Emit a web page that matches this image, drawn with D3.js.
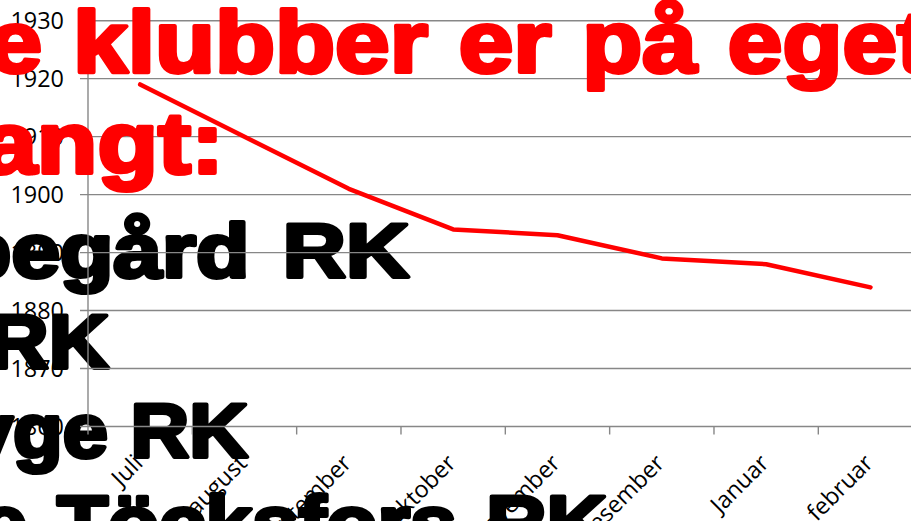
<!DOCTYPE html>
<html>
<head>
<meta charset="utf-8">
<script src="https://cdn.jsdelivr.net/npm/d3@7"></script>
<style>
  html, body { margin: 0; padding: 0; background: #fff; overflow: hidden; }
  svg { display: block; }
</style>
</head>
<body>
<svg id="chart" width="911" height="521"></svg>
<script>
// ---- data ----
const months = ["Juli", "august", "september", "oktober", "november", "desember", "Januar", "februar"];
const values = [1919, 1910, 1901, 1894, 1893, 1889, 1888, 1884];
const yTicks = [1860, 1870, 1880, 1890, 1900, 1910, 1920, 1930];
const redLines = ["e klubber er på eget", "angt:"];
const blackLines = ["begård RK", "RK", "yge RK", "e Töcksfors RK"];

// ---- drawing ----
const svg = d3.select("#chart");
const W = 911, H = 521;
const left = 88, bandW = 104.33;
const x = d3.scaleBand().domain(months).range([left, left + bandW * months.length]).padding(0);
const y = d3.scaleLinear().domain([1860, 1930]).range([426.5, 20.7]);

const bigFont = "'Liberation Sans', Arial, sans-serif";
const backText = svg.append("g").attr("class", "black-text");
const chart = svg.append("g").attr("class", "chart");
const frontText = svg.append("g").attr("class", "red-text");

function bigText(layer, str, color, size, base, sx, ws, mode, ax) {
  const t = layer.append("text")
    .text(str)
    .attr("font-family", bigFont)
    .attr("font-weight", "bold")
    .attr("font-size", size)
    .attr("word-spacing", ws)
    .attr("fill", color)
    .attr("stroke", color)
    .attr("stroke-width", 4)
    .attr("stroke-linejoin", "round");
  if (mode === "end") {
    t.attr("text-anchor", "end").attr("transform", `translate(${ax},${base}) scale(${sx},1)`);
  } else {
    const off = t.node().getSubStringLength(0, mode);
    t.attr("text-anchor", "start").attr("transform", `translate(${ax - off * sx},${base}) scale(${sx},1)`);
  }
}
// black list (behind the chart)
bigText(backText, blackLines[0], "#000", 76, 277, 1.15, 8, "end", 409);
bigText(backText, blackLines[1], "#000", 76, 368, 1.1, 0, "end", 109);
bigText(backText, blackLines[2], "#000", 76, 457, 1.07, 0, "end", 248);
bigText(backText, blackLines[3], "#000", 76, 549, 1.1, 6, "end", 607);

// gridlines
const gridColor = "#878787";
chart.append("g").selectAll("line").data(yTicks).join("line")
  .attr("x1", 80).attr("x2", W)
  .attr("y1", d => y(d)).attr("y2", d => y(d))
  .attr("stroke", gridColor).attr("stroke-width", 1.4);

// y axis line
chart.append("line")
  .attr("x1", left).attr("x2", left)
  .attr("y1", y(1930)).attr("y2", y(1860))
  .attr("stroke", gridColor).attr("stroke-width", 1.4);

// x tick marks at category boundaries
const bounds = months.map(m => x(m)).concat([x(months[months.length - 1]) + x.bandwidth()]);
chart.append("g").selectAll("line").data(bounds).join("line")
  .attr("x1", d => d).attr("x2", d => d)
  .attr("y1", y(1860)).attr("y2", y(1860) + 8)
  .attr("stroke", gridColor).attr("stroke-width", 1.4);

// y labels
const lblFont = "'Open Sans', 'Noto Sans', sans-serif";
chart.append("g").selectAll("text").data(yTicks).join("text")
  .attr("x", 64).attr("y", d => y(d)).attr("dy", "0.37em")
  .attr("text-anchor", "end")
  .attr("font-family", lblFont).attr("font-size", 23.4)
  .attr("fill", "#000")
  .text(d => d);

// x labels rotated
chart.append("g").selectAll("text").data(months).join("text")
  .attr("text-anchor", "end")
  .attr("transform", d => `translate(${x(d) + x.bandwidth() / 2 + 4},${y(1860) + 38}) rotate(-45)`)
  .attr("font-family", lblFont).attr("font-size", 23.4)
  .attr("fill", "#000")
  .text(d => d);

// line
const line = d3.line()
  .x((d, i) => x(months[i]) + x.bandwidth() / 2)
  .y(d => y(d));
chart.append("path").datum(values)
  .attr("d", line)
  .attr("fill", "none")
  .attr("stroke", "#ff0000")
  .attr("stroke-width", 4.5)
  .attr("stroke-linejoin", "round")
  .attr("stroke-linecap", "round");

// red heading (on top of the chart)
bigText(frontText, redLines[0], "#ff0000", 87, 72, 1.13, 3, 2, 73);
bigText(frontText, redLines[1], "#ff0000", 87, 173, 1.14, 0, "end", 224);
</script>
</body>
</html>
